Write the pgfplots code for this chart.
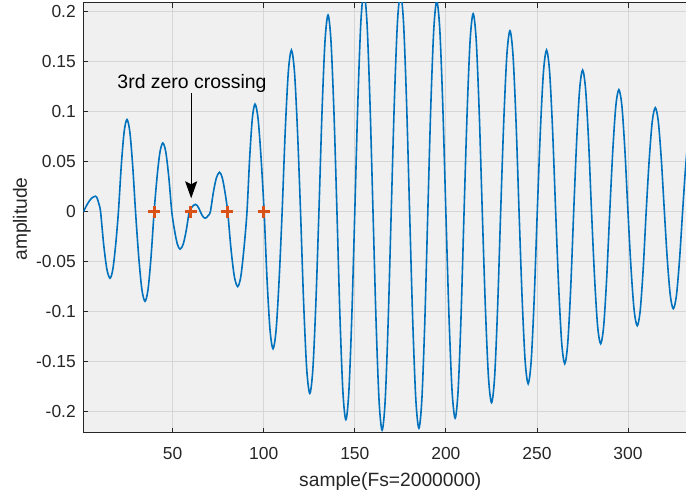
\documentclass[border=0pt]{standalone}
\usepackage{pgfplots}
\pgfplotsset{compat=1.18}
\usepackage{fontspec}
\setmainfont{Liberation Sans}
\usetikzlibrary{arrows.meta}
\definecolor{mblue}{RGB}{0,114,189}
\definecolor{mred}{RGB}{217,83,25}
\definecolor{axgray}{RGB}{38,38,38}
\definecolor{bggray}{RGB}{240,240,240}
\definecolor{gridgray}{RGB}{214,214,214}
\begin{document}
\begin{tikzpicture}
\path[use as bounding box] (0,0) rectangle (686bp,498bp);
\begin{axis}[
  at={(83.46bp,65.3bp)}, anchor=south west,
  scale only axis, width=613.7bp, height=430bp,
  xmin=1, xmax=338, ymin=-0.221, ymax=0.209,
  xtick={50,100,150,200,250,300},
  ytick={-0.2,-0.15,-0.1,-0.05,0,0.05,0.1,0.15,0.2},
  tick align=inside, tick pos=both,
  major tick length=5bp,
  tick style={line width=0.8bp, color=axgray},
  grid=major,
  major grid style={line width=0.8bp, color=gridgray},
  axis background/.style={fill=bggray},
  axis line style={line width=1bp, color=axgray},
  /pgf/number format/assume math mode=true,
  /pgf/number format/fixed,
  /pgf/number format/precision=2,
  tick label style={font=\fontsize{17.5}{20}\selectfont, text=axgray, inner sep=0pt},
  yticklabel style={anchor=east, xshift=-7.5bp},
  xticklabel style={anchor=north, yshift=-14bp},
  xlabel={sample(Fs=2000000)},
  ylabel={amplitude},
  label style={font=\fontsize{19.3}{22}\selectfont, text=axgray},
  xlabel style={at={([yshift=-54bp]axis description cs:0.5,0)}, anchor=base},
  ylabel style={at={([xshift=-56.5bp]axis description cs:0,0.497)}, anchor=base, rotate=0},
]
\addplot[mblue, line width=1.6bp, smooth] table {
x y
1 0
3.2 0.0078
5.4 0.0134
7.6 0.0155
8.53 0.0134
9.47 0.0078
10.4 0
12.13 -0.0333
13.87 -0.0576
15.6 -0.0665
17.13 -0.0576
18.67 -0.0333
20.2 0
21.77 0.0461
23.33 0.0798
24.9 0.0922
26.47 0.0798
28.03 0.0461
29.6 0
31.33 -0.0448
33.07 -0.0776
34.8 -0.0896
36.47 -0.0776
38.13 -0.0448
39.8 0
41.4 0.0344
43.0 0.0595
44.6 0.0687
46.23 0.0595
47.87 0.0344
49.5 0
51.03 -0.0188
52.57 -0.0325
54.1 -0.0375
55.77 -0.0325
57.43 -0.0188
59.1 0
60.23 0.0037
61.37 0.0063
62.5 0.0073
63.4 0.0063
64.3 0.0037
65.2 0
66.07 -0.0033
66.93 -0.0056
67.8 -0.0065
68.77 -0.0056
69.73 -0.0033
70.7 0
72.37 0.0197
74.03 0.0341
75.7 0.0394
77.2 0.0341
78.7 0.0197
80.2 0
82.03 -0.0375
83.87 -0.0649
85.7 -0.0749
87.4 -0.0649
89.1 -0.0375
90.8 0
92.27 0.0538
93.73 0.0932
95.2 0.1076
96.87 0.0932
98.53 0.0538
100.2 0
101.83 -0.0685
103.47 -0.1186
105.1 -0.137
106.77 -0.1186
108.43 -0.0685
110.1 0
111.8 0.0808
113.5 0.1399
115.2 0.1616
116.87 0.1399
118.53 0.0808
120.2 0
121.9 -0.0909
123.6 -0.1574
125.3 -0.1817
126.97 -0.1574
128.63 -0.0909
130.3 0
131.97 0.0984
133.63 0.1703
135.3 0.1967
136.93 0.1703
138.57 0.0984
140.2 0
141.83 -0.104
143.47 -0.1801
145.1 -0.208
146.73 -0.1801
148.37 -0.104
150 0
151.67 0.1095
153.33 0.1897
155 0.219
156.67 0.1897
158.33 0.1095
160 0
161.67 -0.1093
163.33 -0.1892
165 -0.2185
166.67 -0.1892
168.33 -0.1093
170 0
171.7 0.109
173.4 0.1888
175.1 0.218
176.77 0.1888
178.43 0.109
180.1 0
181.8 -0.1083
183.5 -0.1875
185.2 -0.2165
186.83 -0.1875
188.47 -0.1083
190.1 0
191.73 0.1053
193.37 0.1823
195 0.2105
196.67 0.1823
198.33 0.1053
200 0
201.7 -0.1033
203.4 -0.1788
205.1 -0.2065
206.73 -0.1788
208.37 -0.1033
210 0
211.67 0.099
213.33 0.1715
215 0.198
216.67 0.1715
218.33 0.099
220 0
221.7 -0.0955
223.4 -0.1654
225.1 -0.191
226.77 -0.1654
228.43 -0.0955
230.1 0
231.8 0.0905
233.5 0.1567
235.2 0.181
236.87 0.1567
238.53 0.0905
240.2 0
241.87 -0.086
243.53 -0.149
245.2 -0.172
246.87 -0.149
248.53 -0.086
250.2 0
251.9 0.0808
253.6 0.1399
255.3 0.1616
256.97 0.1399
258.63 0.0808
260.3 0
261.97 -0.076
263.63 -0.1316
265.3 -0.152
266.93 -0.1316
268.57 -0.076
270.2 0
271.83 0.0708
273.47 0.1226
275.1 0.1416
276.73 0.1226
278.37 0.0708
280 0
281.67 -0.066
283.33 -0.1143
285 -0.132
286.67 -0.1143
288.33 -0.066
290 0
291.67 0.061
293.33 0.1057
295 0.122
296.67 0.1057
298.33 0.061
300 0
301.7 -0.057
303.4 -0.0987
305.1 -0.114
306.73 -0.0987
308.37 -0.057
310 0
311.67 0.052
313.33 0.0901
315 0.104
316.67 0.0901
318.33 0.052
320 0
321.63 -0.0485
323.27 -0.084
324.9 -0.097
326.6 -0.084
328.3 -0.0485
330 0
331.67 0.045
333.33 0.0779
335 0.09
336.67 0.0779
338.33 0.045
340 0
};
\addplot[only marks, mark=+, mark size=6bp, mred, line width=3bp] coordinates {
(40,0) (60,0) (80,0) (100,0)
};
\draw[-{Stealth[length=17bp,width=12bp,inset=3bp]}, line width=0.9bp, black]
  (axis cs:60.15,0.1184) -- (axis cs:60.15,0.0134);
\node[anchor=base, inner sep=0pt, font=\fontsize{19.5}{22}\selectfont, text=black]
  at (axis cs:60.6,0.1234) {3rd zero crossing};
\end{axis}
\end{tikzpicture}
\end{document}
